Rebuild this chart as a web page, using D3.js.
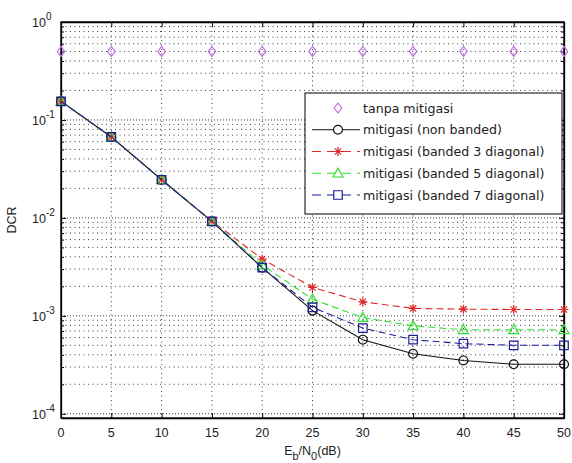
<!DOCTYPE html>
<html>
<head>
<meta charset="utf-8">
<script src="https://cdn.jsdelivr.net/npm/d3@7/dist/d3.min.js"></script>
<style>
  html, body { margin: 0; padding: 0; background: #fff; }
  svg { display: block; }
  text { font-family: "Liberation Sans", Arial, sans-serif; fill: #222; }
  .legend-text { font-family: "DejaVu Sans", sans-serif; }
</style>
</head>
<body>
<svg id="chart" width="572" height="463"></svg>
<script>
// Eb/N0 sweep (dB)
const snr = [0, 5, 10, 15, 20, 25, 30, 35, 40, 45, 50];

// DCR per scheme
const tanpaMitigasi = [0.5, 0.5, 0.5, 0.5, 0.5, 0.5, 0.5, 0.5, 0.5, 0.5, 0.5];
const nonBanded     = [0.155, 0.067, 0.0245, 0.0092, 0.0031, 0.00113, 0.00057, 0.00041, 0.00035, 0.00032, 0.00032];
const banded3       = [0.155, 0.067, 0.0245, 0.0093, 0.0038, 0.00195, 0.00139, 0.00119, 0.00117, 0.00116, 0.00116];
const banded5       = [0.155, 0.067, 0.0245, 0.0092, 0.0033, 0.00148, 0.00096, 0.00079, 0.00072, 0.00072, 0.00072];
const banded7       = [0.155, 0.067, 0.0245, 0.0092, 0.0031, 0.00122, 0.00075, 0.00057, 0.00052, 0.00050, 0.00050];

const xTicks = [0, 5, 10, 15, 20, 25, 30, 35, 40, 45, 50];
const yDecades = [1e-4, 1e-3, 1e-2, 1e-1, 1];
const yExponents = ["-4", "-3", "-2", "-1", "0"];

const seriesNames = [
  "tanpa mitigasi",
  "mitigasi (non banded)",
  "mitigasi (banded 3 diagonal)",
  "mitigasi (banded 5 diagonal)",
  "mitigasi (banded 7 diagonal)"
];

const series = [
  { name: seriesNames[0], values: tanpaMitigasi, color: "#c66ee6", line: false, dash: null, marker: "diamond" },
  { name: seriesNames[1], values: nonBanded, color: "#111111", line: true, dash: null, marker: "circle" },
  { name: seriesNames[2], values: banded3, color: "#e02828", line: true, dash: "7,4", marker: "star" },
  { name: seriesNames[3], values: banded5, color: "#2ee02e", line: true, dash: "7,4", marker: "triangle" },
  { name: seriesNames[4], values: banded7, color: "#1c1c9c", line: true, dash: "7,4", marker: "square" }
];

const svg = d3.select("#chart");
const pLeft = 61, pRight = 564, pTop = 22, pBottom = 418;

const x = d3.scaleLinear().domain([0, 50]).range([pLeft, pRight]);
const y = d3.scaleLog().domain([0.905e-4, 1]).range([pBottom, pTop]);

// minor log values 1..9 per decade
const minorVals = [];
for (let e = -4; e < 0; e++) {
  for (let m = 1; m <= 9; m++) minorVals.push(m * Math.pow(10, e));
}
minorVals.push(1);
const isDecade = d => yDecades.some(v => Math.abs(v - d) / v < 1e-9);

const grid = svg.append("g");
// horizontal dotted grid
grid.selectAll("line.hg").data(minorVals).join("line")
  .attr("x1", pLeft).attr("x2", pRight)
  .attr("y1", d => y(d)).attr("y2", d => y(d))
  .attr("stroke", "#000").attr("stroke-width", 1)
  .attr("stroke-dasharray", d => isDecade(d) ? "1,2" : "1,3.5")
  .attr("opacity", 0.75);
// vertical dotted grid
grid.selectAll("line.vg").data(xTicks).join("line")
  .attr("x1", d => x(d)).attr("x2", d => x(d))
  .attr("y1", pTop).attr("y2", pBottom)
  .attr("stroke", "#000").attr("stroke-width", 1)
  .attr("stroke-dasharray", "1,3.5").attr("opacity", 0.75);

// axes (inward ticks)
const axB = svg.append("g").attr("transform", `translate(0,${pBottom})`)
  .call(d3.axisBottom(x).tickValues(xTicks).tickSizeInner(-5).tickSizeOuter(0).tickFormat(""));
const axT = svg.append("g").attr("transform", `translate(0,${pTop})`)
  .call(d3.axisTop(x).tickValues(xTicks).tickSizeInner(-5).tickSizeOuter(0).tickFormat(""));
const axL = svg.append("g").attr("transform", `translate(${pLeft},0)`)
  .call(d3.axisLeft(y).tickValues(minorVals).tickSizeInner(0).tickSizeOuter(0).tickFormat(""));
const axR = svg.append("g").attr("transform", `translate(${pRight},0)`)
  .call(d3.axisRight(y).tickValues(minorVals).tickSizeInner(0).tickSizeOuter(0).tickFormat(""));
[axB, axT, axL, axR].forEach(a => {
  a.select(".domain").attr("stroke", "#000").attr("stroke-width", 1.3);
  a.selectAll(".tick line").attr("stroke", "#000");
});
axL.selectAll(".tick line").attr("x2", d => isDecade(d) ? 5 : 3);
axR.selectAll(".tick line").attr("x2", d => isDecade(d) ? -5 : -3);
// close the box
svg.append("rect").attr("x", pLeft).attr("y", pTop).attr("width", pRight - pLeft).attr("height", pBottom - pTop)
  .attr("fill", "none").attr("stroke", "#000").attr("stroke-width", 1.3);

// x tick labels
svg.append("g").selectAll("text").data(xTicks).join("text")
  .attr("x", d => x(d)).attr("y", pBottom + 19)
  .attr("text-anchor", "middle").attr("font-size", 12.5)
  .text(d => d);

// y tick labels 10^e
const yl = svg.append("g").selectAll("text").data(yDecades).join("text")
  .attr("x", 32).attr("y", d => y(d) + 5)
  .attr("font-size", 12.5);
yl.append("tspan").text("10");
yl.append("tspan").attr("dy", -7).attr("font-size", 10).text((d, i) => yExponents[i]);

// axis titles
const xt = svg.append("text").attr("x", (pLeft + pRight) / 2).attr("y", 455)
  .attr("text-anchor", "middle").attr("font-size", 12.5);
xt.append("tspan").text("E");
xt.append("tspan").attr("dy", 5).attr("font-size", 11).text("b");
xt.append("tspan").attr("dy", -5).text("/N");
xt.append("tspan").attr("dy", 5).attr("font-size", 11).text("0");
xt.append("tspan").attr("dy", -5).text("(dB)");

svg.append("text").attr("transform", `translate(16,${(pTop + pBottom) / 2}) rotate(-90)`)
  .attr("text-anchor", "middle").attr("font-size", 12.5).text("DCR");

// marker shapes
function markerPath(type, s) {
  switch (type) {
    case "diamond": return `M0,${-s}L${s * 0.75},0L0,${s}L${-s * 0.75},0Z`;
    case "circle": return d3.symbol(d3.symbolCircle, Math.PI * s * s * 0.8)();
    case "triangle": return `M0,${-s}L${s},${s * 0.75}L${-s},${s * 0.75}Z`;
    case "square": { const h = s * 0.85; return `M${-h},${-h}H${h}V${h}H${-h}Z`; }
    case "star": {
      const a = s * 0.9, b = a * 0.7;
      return `M${-a},0H${a}M0,${-a}V${a}M${-b},${-b}L${b},${b}M${-b},${b}L${b},${-b}`;
    }
  }
}

const line = d3.line().x((d, i) => x(snr[i])).y(d => y(d));
const plot = svg.append("g");
series.forEach(s => {
  if (s.line) {
    plot.append("path").datum(s.values).attr("d", line)
      .attr("fill", "none").attr("stroke", s.color).attr("stroke-width", 1.1)
      .attr("stroke-dasharray", s.dash);
  }
  plot.append("g").selectAll("path").data(s.values).join("path")
    .attr("transform", (d, i) => `translate(${x(snr[i])},${y(d)})`)
    .attr("d", markerPath(s.marker, 5))
    .attr("fill", "none").attr("stroke", s.color).attr("stroke-width", 1.2);
});

// legend
const lg = svg.append("g");
const lx = 305, ly = 93, lw = 257, lh = 121;
lg.append("rect").attr("x", lx).attr("y", ly).attr("width", lw).attr("height", lh)
  .attr("fill", "#fff").attr("stroke", "#000").attr("stroke-width", 1);
const rowY = d3.scalePoint().domain(seriesNames).range([ly + 15, ly + 102]);
series.forEach(s => {
  const yy = rowY(s.name);
  if (s.line) {
    lg.append("line").attr("x1", lx + 7).attr("x2", lx + 55).attr("y1", yy).attr("y2", yy)
      .attr("stroke", s.color).attr("stroke-width", 1.1).attr("stroke-dasharray", s.dash ? "9,6" : null);
  }
  lg.append("path").attr("transform", `translate(${lx + 33},${yy})`)
    .attr("d", markerPath(s.marker, 5))
    .attr("fill", s.line ? "#fff" : "none").attr("stroke", s.color).attr("stroke-width", 1.2);
  lg.append("text").attr("class", "legend-text").attr("x", lx + 58).attr("y", yy + 4.5)
    .attr("font-size", 12.6).text(s.name);
});
</script>
</body>
</html>
